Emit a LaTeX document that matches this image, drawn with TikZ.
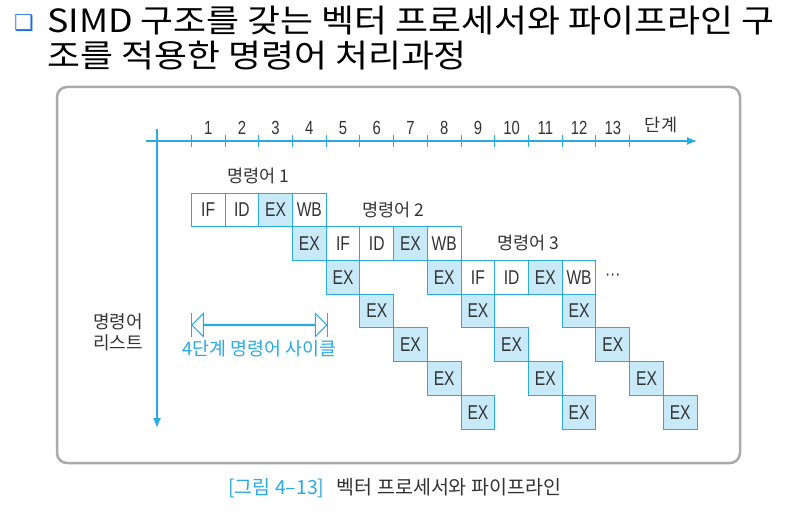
\documentclass[tikz,border=0pt]{standalone}
\usepackage{fontspec}
\setmainfont{Noto Sans CJK KR}
\newfontfamily\titlefont[FakeStretch=1.12]{Noto Sans CJK KR}
\newfontfamily\condfont[FakeStretch=0.78]{Liberation Sans}
\newfontfamily\symfont{DejaVu Sans}
\usetikzlibrary{arrows.meta, positioning, shapes.arrows}
\definecolor{lineblue}{RGB}{41,171,226}
\definecolor{cellblue}{RGB}{199,233,248}
\definecolor{textgray}{RGB}{51,51,51}
\definecolor{framegray}{RGB}{170,170,170}
\definecolor{boxblue}{RGB}{30,110,230}

\begin{document}
\begin{tikzpicture}[x=1pt, y=-1pt,
  stage/.style={rectangle, draw=lineblue, line width=1pt, minimum width=33.72pt, minimum height=33.72pt, inner sep=0pt, outer sep=0pt, text=textgray, font=\condfont\fontsize{20}{20}\selectfont},
  exec/.style={stage, fill=cellblue},
  instlabel/.style={text=textgray, inner sep=0pt, font=\fontsize{17.5}{17.5}\selectfont},
  num/.style={text=textgray, inner sep=0pt, font=\condfont\fontsize{19}{19}\selectfont},
  title/.style={anchor=base west, inner sep=0pt, font=\titlefont\fontsize{32}{32}\selectfont},
  axis/.style={draw=lineblue, line width=1.2pt},
  tickmark/.style={draw=lineblue, line width=0.9pt},
  arrow/.style={axis, -{Latex[length=10pt, width=8pt]}}
]
\useasboundingbox (0,0) rectangle (793,519);

% Title
\node[anchor=base west, inner sep=0pt, text=boxblue, font=\symfont\fontsize{22}{22}\selectfont] (bullet) at (14,31) {❑};
\node[title] (title1) at (47,33) {SIMD 구조를 갖는 벡터 프로세서와 파이프라인 구};
\node[title] (title2) at (47,68) {조를 적용한 명령어 처리과정};

% Frame
\draw[framegray, line width=2.5pt, rounded corners=10pt] (57,87) rectangle (740,463);

% Axes
\coordinate (xstart) at (146,141);
\coordinate (xend) at (697,141);
\coordinate (ystart) at (157,129);
\coordinate (yend) at (157,428);
\draw[arrow] (xstart) -- (xend);
\draw[arrow] (ystart) -- (yend);
\foreach \i in {0,...,13} \draw[tickmark] (191.3+33.72*\i,135) -- (191.3+33.72*\i,147);
\foreach \i in {1,...,13} \node[num] at (174.44+33.72*\i,128) {\i};
\node[instlabel] (steps) at (661,125) {단계};

% Nodes
\node[stage, anchor=north west] (if1) at (191.3,193) {IF};
\node[stage, right=0pt of if1] (id1) {ID};
\node[exec, right=0pt of id1] (ex1a) {EX};
\node[stage, right=0pt of ex1a] (wb1) {WB};
\node[exec, below right=0pt and 0pt of ex1a] (ex1b) {EX};
\node[exec, below right=0pt and 0pt of ex1b] (ex1c) {EX};
\node[exec, below right=0pt and 0pt of ex1c] (ex1d) {EX};
\node[exec, below right=0pt and 0pt of ex1d] (ex1e) {EX};
\node[exec, below right=0pt and 0pt of ex1e] (ex1f) {EX};
\node[exec, below right=0pt and 0pt of ex1f] (ex1g) {EX};

\node[stage, right=0pt of ex1b] (if2) {IF};
\node[stage, right=0pt of if2] (id2) {ID};
\node[exec, right=0pt of id2] (ex2a) {EX};
\node[stage, right=0pt of ex2a] (wb2) {WB};
\node[exec, below right=0pt and 0pt of ex2a] (ex2b) {EX};
\node[exec, below right=0pt and 0pt of ex2b] (ex2c) {EX};
\node[exec, below right=0pt and 0pt of ex2c] (ex2d) {EX};
\node[exec, below right=0pt and 0pt of ex2d] (ex2e) {EX};
\node[exec, below right=0pt and 0pt of ex2e] (ex2f) {EX};

\node[stage, right=0pt of ex2b] (if3) {IF};
\node[stage, right=0pt of if3] (id3) {ID};
\node[exec, right=0pt of id3] (ex3a) {EX};
\node[stage, right=0pt of ex3a] (wb3) {WB};
\node[exec, below right=0pt and 0pt of ex3a] (ex3b) {EX};
\node[exec, below right=0pt and 0pt of ex3b] (ex3c) {EX};
\node[exec, below right=0pt and 0pt of ex3c] (ex3d) {EX};
\node[exec, below right=0pt and 0pt of ex3d] (ex3e) {EX};
\node[stage, draw=none, right=0pt of wb3] (more) {···};

\node[instlabel, above=9pt of id1.north east] (inst1) {명령어 1};
\node[instlabel, above=9pt of id2.north east] (inst2) {명령어 2};
\node[instlabel, above=9pt of id3.north east] (inst3) {명령어 3};

\node[instlabel, align=center, font=\fontsize{18}{21}\selectfont] (instlist) at (118,332) {명령어\\리스트};

% Cycle
\node[double arrow, draw=lineblue, line width=1pt, fill=white, minimum height=135pt, minimum width=23pt, double arrow head extend=8pt, inner sep=0pt] (stagearrow) at (259.3,325) {};
\draw[tickmark] ([yshift=12pt]stagearrow.west) -- ([yshift=-12pt]stagearrow.west);
\draw[tickmark] ([yshift=12pt]stagearrow.east) -- ([yshift=-12pt]stagearrow.east);
\node[instlabel, text=lineblue, below=14pt of stagearrow, font=\fontsize{18.4}{18.4}\selectfont] (cyclelabel) {4단계 명령어 사이클};

% Caption
\node[anchor=base west, inner sep=0pt, text=lineblue, font=\fontsize{19.5}{19.5}\selectfont] (figno) at (228,494) {[그림 4–13]};
\node[base right=12pt of figno, inner sep=0pt, text=textgray, font=\fontsize{19.5}{19.5}\selectfont] (figtitle) {벡터 프로세서와 파이프라인};

\end{tikzpicture}
\end{document}
